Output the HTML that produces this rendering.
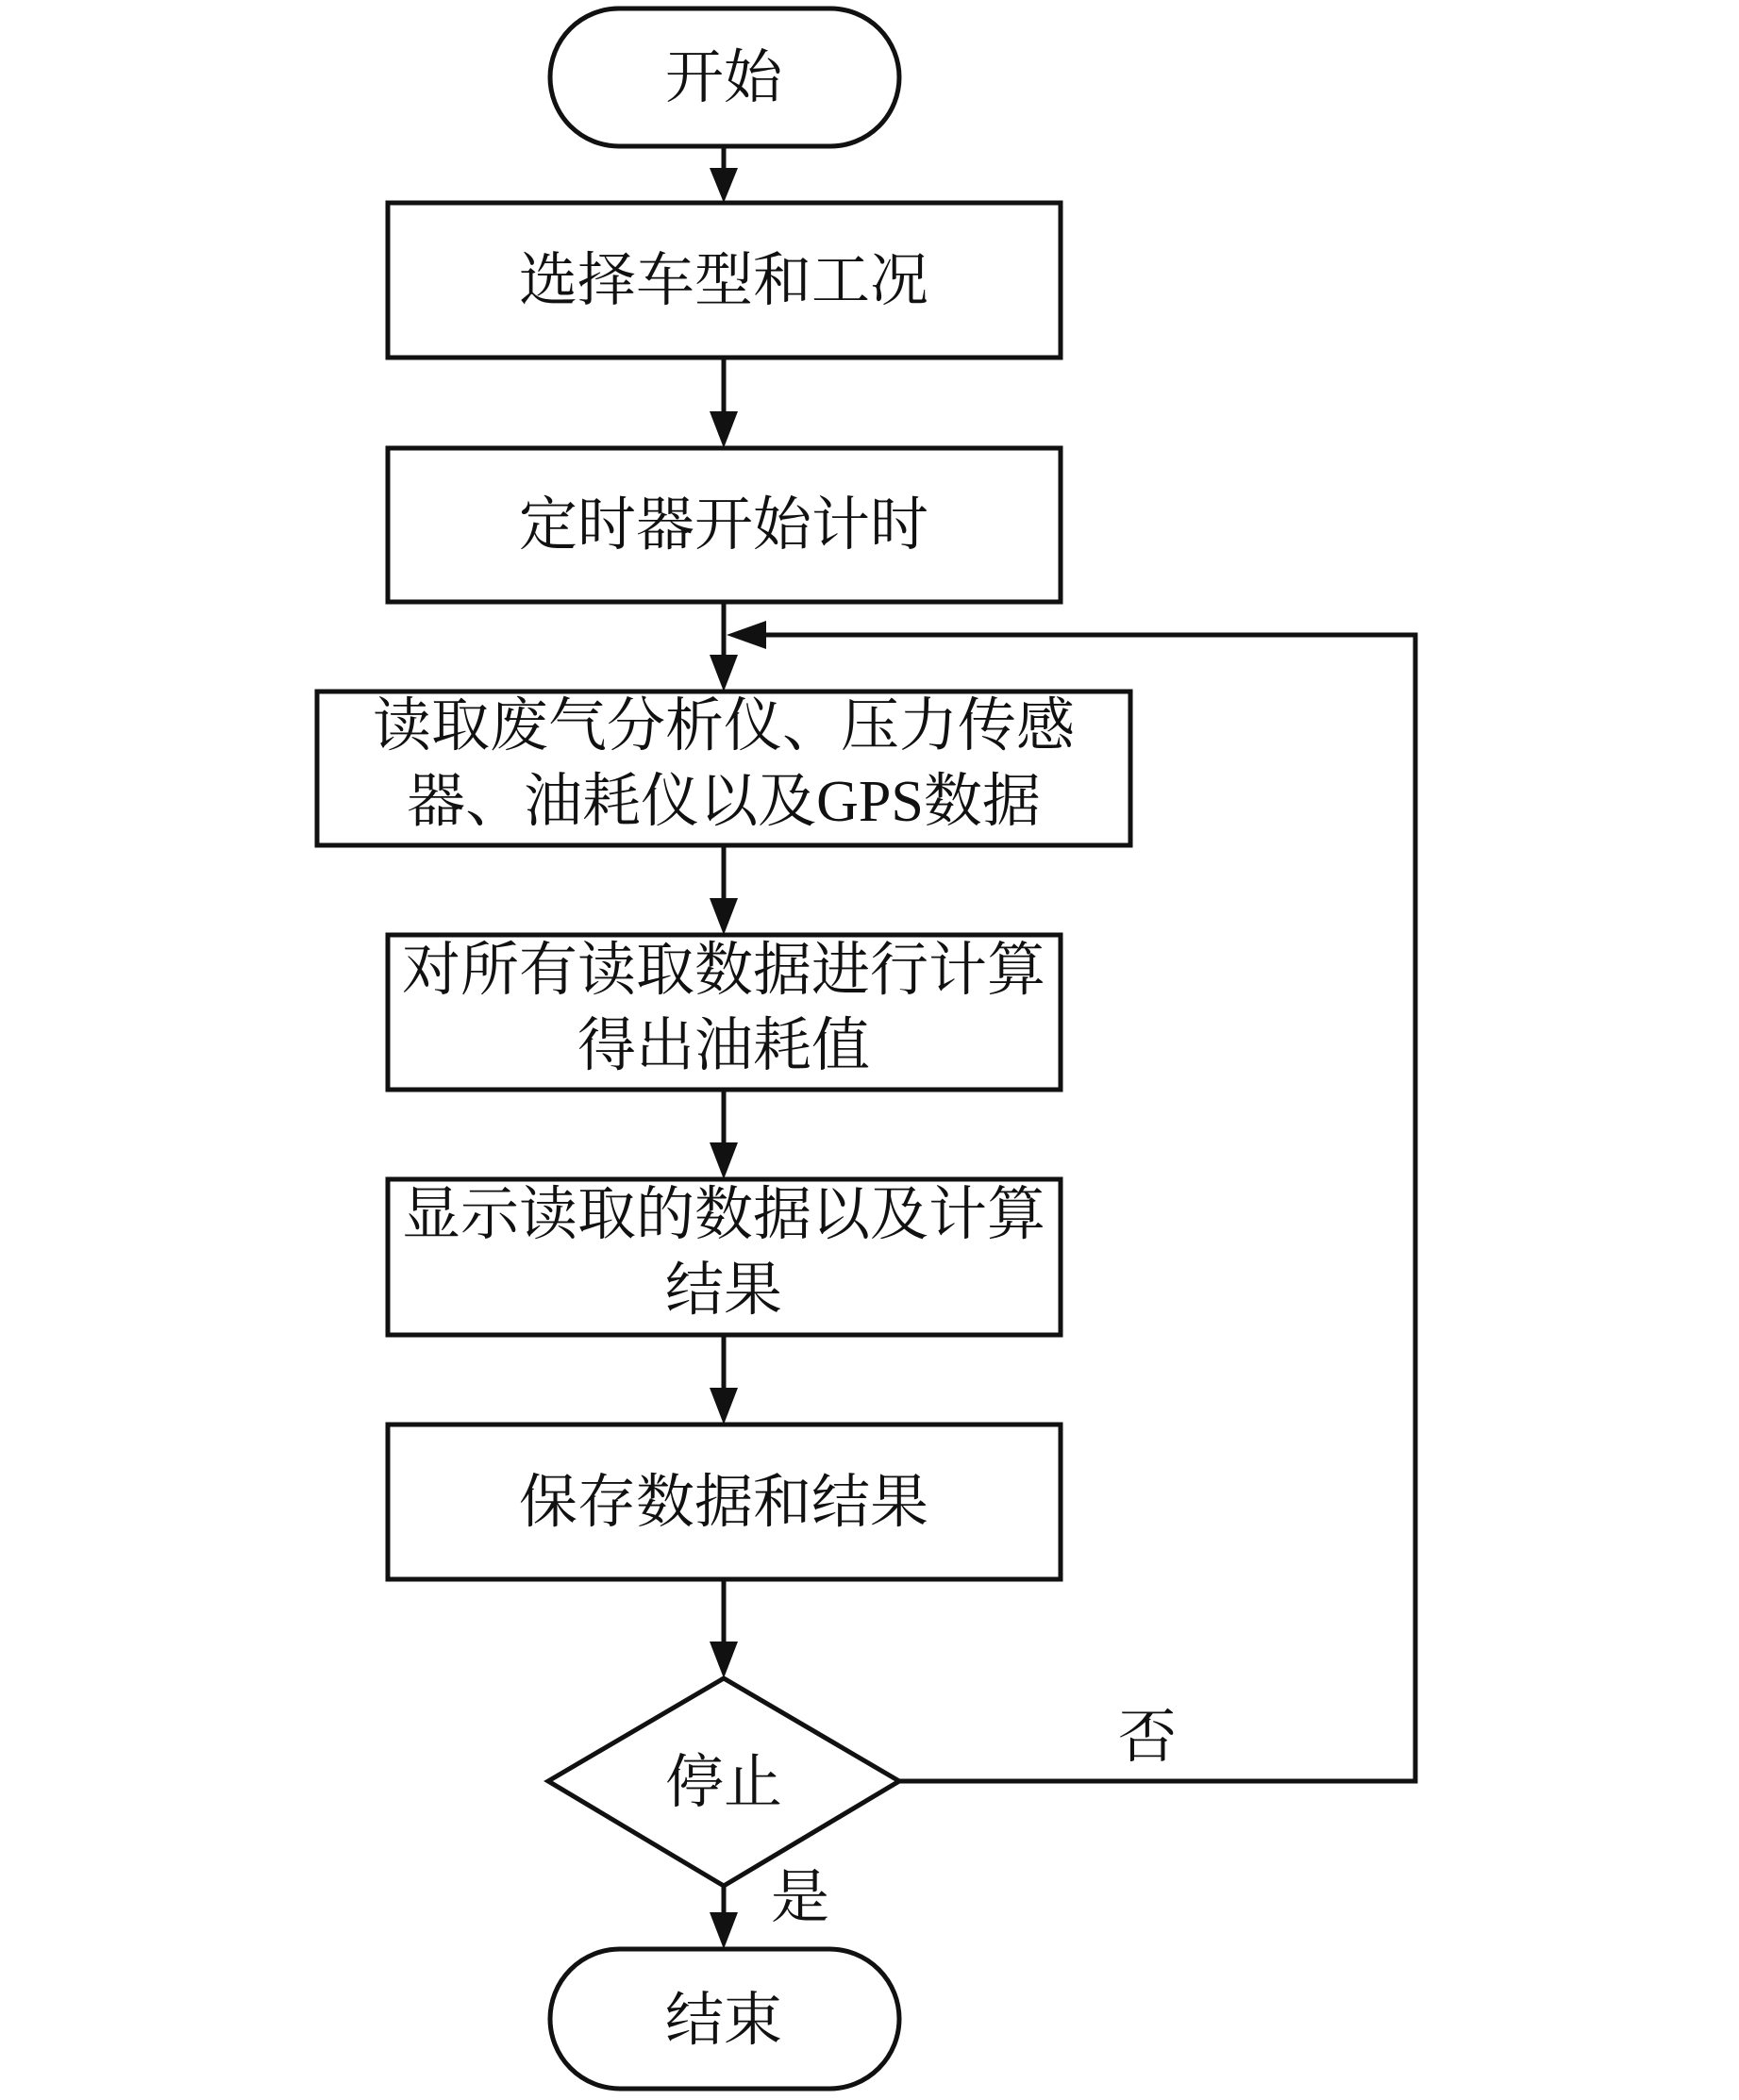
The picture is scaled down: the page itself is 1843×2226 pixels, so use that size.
<!DOCTYPE html>
<html><head><meta charset="utf-8"><style>
html,body{margin:0;padding:0;background:#fff}
svg{display:block}
text{font-family:"Liberation Serif","Noto Serif CJK SC",serif;font-size:62px;fill:#111;text-anchor:middle}
</style></head><body>
<svg width="1843" height="2226" viewBox="0 0 1843 2226" xmlns="http://www.w3.org/2000/svg">
<g stroke="#111" stroke-width="5" fill="none">
<rect x="583" y="9" width="370" height="146" rx="73"/>
<rect x="411" y="215" width="713" height="164"/>
<rect x="411" y="475" width="713" height="163"/>
<rect x="336" y="733" width="862" height="163"/>
<rect x="411" y="991" width="713" height="164"/>
<rect x="411" y="1250" width="713" height="165"/>
<rect x="411" y="1510" width="713" height="164"/>
<polygon points="767,1779 953,1888 767,1999 581,1888"/>
<rect x="583" y="2066" width="370" height="148" rx="74"/>
<line x1="767" y1="155" x2="767" y2="180"/>
<line x1="767" y1="379" x2="767" y2="440"/>
<line x1="767" y1="638" x2="767" y2="698"/>
<line x1="767" y1="896" x2="767" y2="956"/>
<line x1="767" y1="1155" x2="767" y2="1215"/>
<line x1="767" y1="1415" x2="767" y2="1475"/>
<line x1="767" y1="1674" x2="767" y2="1744"/>
<line x1="767" y1="1999" x2="767" y2="2031"/>
<polyline points="953,1888 1500,1888 1500,673 800,673"/>
</g>
<g fill="#111">
<polygon points="752,178 782,178 767,215"/>
<polygon points="752,436 782,436 767,475"/>
<polygon points="752,694 782,694 767,733"/>
<polygon points="752,952 782,952 767,991"/>
<polygon points="752,1211 782,1211 767,1250"/>
<polygon points="752,1471 782,1471 767,1510"/>
<polygon points="752,1740 782,1740 767,1779"/>
<polygon points="752,2027 782,2027 767,2066"/>
<polygon points="812,658 812,688 770,673"/>
</g>
<text x="767" y="103">开始</text>
<text x="767" y="318">选择车型和工况</text>
<text x="767" y="577">定时器开始计时</text>
<text x="767" y="790">读取废气分析仪、压力传感</text>
<text x="767" y="870">器、油耗仪以及GPS数据</text>
<text x="767" y="1049">对所有读取数据进行计算</text>
<text x="767" y="1129">得出油耗值</text>
<text x="767" y="1308">显示读取的数据以及计算</text>
<text x="767" y="1388">结果</text>
<text x="767" y="1613">保存数据和结果</text>
<text x="767" y="1910">停止</text>
<text x="1216" y="1862">否</text>
<text x="848" y="2032">是</text>
<text x="767" y="2162">结束</text>
</svg>
</body></html>
